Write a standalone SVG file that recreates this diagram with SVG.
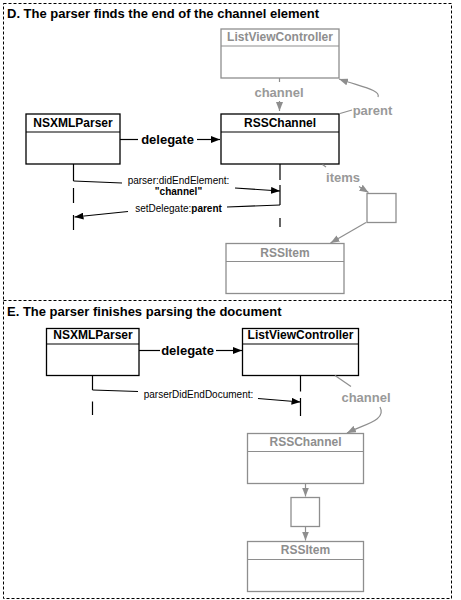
<svg xmlns="http://www.w3.org/2000/svg" width="461" height="600" viewBox="0 0 461 600">
<defs>
<style>
.frame{fill:none;stroke:#000;stroke-width:1;stroke-dasharray:3,2}
.title{font-family:"Liberation Sans",Arial,sans-serif;font-weight:bold;font-size:13px;fill:#000}
.box{fill:#fff;stroke:#000;stroke-width:1.3}
.gbox{fill:#fff;stroke:#8e8e8e;stroke-width:1.3}
.hdr{font-family:"Liberation Sans",Arial,sans-serif;font-weight:bold;font-size:12px;fill:#000;text-anchor:middle}
.ghdr{font-family:"Liberation Sans",Arial,sans-serif;font-weight:bold;font-size:12px;fill:#8e8e8e;text-anchor:middle}
.ln{fill:none;stroke:#000;stroke-width:1.2}
.gln{fill:none;stroke:#8e8e8e;stroke-width:1.2}
.lbl{font-family:"Liberation Sans",Arial,sans-serif;font-weight:bold;font-size:13px;fill:#000;text-anchor:middle}
.glbl{font-family:"Liberation Sans",Arial,sans-serif;font-weight:bold;font-size:13px;fill:#999;text-anchor:middle}
.msg{font-family:"Liberation Sans",Arial,sans-serif;font-size:10px;fill:#000;text-anchor:middle}
.b{font-weight:bold}
.arr{marker-end:url(#ah)}
.garr{marker-end:url(#gah)}
</style>
<marker id="ah" markerUnits="userSpaceOnUse" markerWidth="9" markerHeight="7" refX="9" refY="3.5" orient="auto"><path d="M0,0 L9,3.5 L0,7 z" fill="#000"/></marker>
<marker id="gah" markerUnits="userSpaceOnUse" markerWidth="9" markerHeight="7" refX="9" refY="3.5" orient="auto"><path d="M0,0 L9,3.5 L0,7 z" fill="#8e8e8e"/></marker>
</defs>

<g id="frame">
<rect class="frame" x="3.5" y="3.5" width="448" height="595"/>
<line class="frame" x1="3.5" y1="300.5" x2="451.5" y2="300.5"/>
<text class="title" x="7" y="17.5">D. The parser finds the end of the channel element</text>
<text class="title" x="7" y="316">E. The parser finishes parsing the document</text>
</g>

<!-- Panel D nodes -->
<g id="d-listviewcontroller">
<rect class="gbox" x="221" y="29" width="118" height="49"/>
<line class="gln" x1="221" y1="46" x2="339" y2="46"/>
<text class="ghdr" x="280" y="41">ListViewController</text>
</g>
<g id="d-nsxmlparser">
<rect class="box" x="26" y="114" width="94" height="50"/>
<line class="ln" x1="26" y1="132" x2="120" y2="132"/>
<text class="hdr" x="73" y="127">NSXMLParser</text>
</g>
<g id="d-rsschannel">
<rect class="box" x="221" y="114" width="118" height="50"/>
<line class="ln" x1="221" y1="132" x2="339" y2="132"/>
<text class="hdr" x="280" y="127">RSSChannel</text>
</g>
<g id="d-items">
<rect class="gbox" x="367" y="193.5" width="29" height="29"/>
</g>
<g id="d-rssitem">
<rect class="gbox" x="226" y="243.5" width="118" height="50"/>
<line class="gln" x1="226" y1="261.5" x2="344" y2="261.5"/>
<text class="ghdr" x="285" y="256.5">RSSItem</text>
</g>

<!-- Panel E nodes -->
<g id="e-nsxmlparser">
<rect class="box" x="46.5" y="328.5" width="92.5" height="47"/>
<line class="ln" x1="46.5" y1="344" x2="139" y2="344"/>
<text class="hdr" x="93" y="338.5">NSXMLParser</text>
</g>
<g id="e-listviewcontroller">
<rect class="box" x="242.5" y="328.5" width="116" height="47"/>
<line class="ln" x1="242.5" y1="344" x2="358.5" y2="344"/>
<text class="hdr" x="300.5" y="338.5">ListViewController</text>
</g>
<g id="e-rsschannel">
<rect class="gbox" x="247.5" y="433.5" width="116" height="50"/>
<line class="gln" x1="247.5" y1="451.5" x2="363.5" y2="451.5"/>
<text class="ghdr" x="305.5" y="446">RSSChannel</text>
</g>
<g id="e-items">
<rect class="gbox" x="291" y="497.5" width="28.5" height="29"/>
</g>
<g id="e-rssitem">
<rect class="gbox" x="247.5" y="541.5" width="116" height="50"/>
<line class="gln" x1="247.5" y1="559.5" x2="363.5" y2="559.5"/>
<text class="ghdr" x="305.5" y="554">RSSItem</text>
</g>

<g id="connectors">
<!-- Panel D -->
<line class="gln" x1="279.5" y1="78" x2="279.5" y2="82"/>
<text class="glbl" x="279" y="97">channel</text>
<line class="gln garr" x1="279.5" y1="101" x2="279.5" y2="111"/>

<line class="gln" x1="340" y1="113.5" x2="352" y2="110"/>
<text class="glbl" x="372.5" y="114.5">parent</text>
<path class="gln garr" d="M378,97 C381,90 362,87 339,79"/>

<line class="ln" x1="120" y1="139.5" x2="138" y2="139.5"/>
<text class="lbl" x="167.5" y="143.5">delegate</text>
<line class="ln arr" x1="197" y1="139.5" x2="220" y2="139.5"/>

<line class="gln" x1="322.5" y1="164.5" x2="326" y2="167"/>
<text class="glbl" x="343" y="181.5">items</text>
<line class="gln garr" x1="359" y1="186.5" x2="368.5" y2="192.5"/>
<line class="gln garr" x1="366" y1="222.5" x2="330.5" y2="243"/>

<!-- lifelines D -->
<path class="ln" d="M73.5,164 V181 M73.5,188 V203 M73.5,215 V230"/>
<path class="ln" d="M280,164 V180 M280,185 V205 M280,218 V227"/>
<!-- messages D -->
<path class="ln" d="M73.5,181 L122,183"/>
<text class="msg" x="178.5" y="183.5">parser:didEndElement:</text>
<text class="msg b" x="178.5" y="195">"channel"</text>
<line class="ln arr" x1="235" y1="188" x2="280" y2="191"/>
<path class="ln" d="M280,205 L227,207"/>
<text class="msg" x="178.5" y="211.5">setDelegate:<tspan class="b">parent</tspan></text>
<line class="ln arr" x1="128" y1="211.5" x2="74.5" y2="217"/>

<!-- Panel E -->
<line class="ln" x1="139" y1="350.5" x2="160" y2="350.5"/>
<text class="lbl" x="187.5" y="354.5">delegate</text>
<line class="ln arr" x1="216" y1="350.5" x2="242" y2="350.5"/>

<path class="ln" d="M92.5,375.5 V390 M92.5,401.5 V415"/>
<path class="ln" d="M300.5,375.5 V391.5 M300.5,398 V416"/>
<path class="ln" d="M92.5,390 L138,391.5"/>
<text class="msg" x="198.5" y="398">parserDidEndDocument:</text>
<line class="ln arr" x1="258" y1="398.5" x2="300.5" y2="402"/>

<line class="gln" x1="335" y1="375.5" x2="351" y2="386.5"/>
<text class="glbl" x="366" y="402">channel</text>
<path class="gln garr" d="M380,407 C387,420 365,424 347,433"/>

<line class="gln garr" x1="305.5" y1="483.5" x2="305.5" y2="496.5"/>
<line class="gln garr" x1="305.5" y1="526.5" x2="305.5" y2="540.5"/>
</g>
</svg>
